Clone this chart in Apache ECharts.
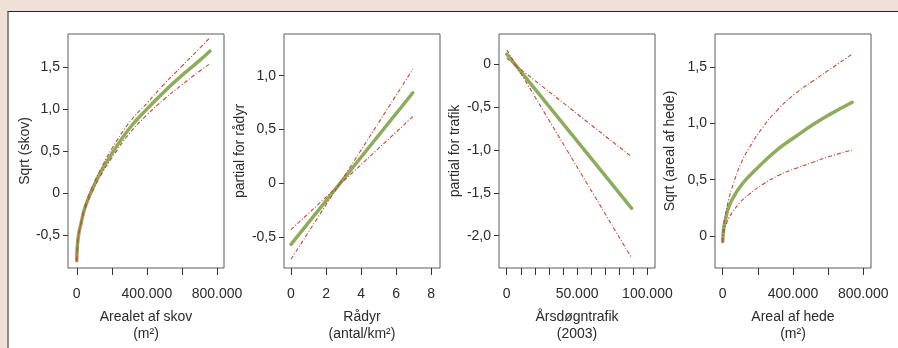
<!DOCTYPE html>
<html><head><meta charset="utf-8">
<script src="https://cdn.jsdelivr.net/npm/echarts@6/dist/echarts.min.js"></script>
<style>
html,body{margin:0;padding:0;width:898px;height:348px;overflow:hidden;background:#efe1d8;}
#frame{position:absolute;left:7px;top:11px;right:0;bottom:0;background:#fff;border-top:1px solid #222;border-left:2px solid #8c8c8c;}
#chart{position:absolute;left:0;top:0;width:898px;height:348px;}
</style></head><body>
<div id="frame"></div><div id="chart"></div>
<script>
// Panel 1: Arealet af skov
const skovX     = [0, 3000, 10000, 25000, 50000, 100000, 150000, 200000, 300000, 400000, 500000, 600000, 700000, 760000];
const skovFit   = [-0.80, -0.64, -0.50, -0.35, -0.15, 0.10, 0.30, 0.47, 0.77, 1.00, 1.21, 1.40, 1.575, 1.69];
const skovUpper = [-0.79, -0.63, -0.49, -0.34, -0.13, 0.13, 0.34, 0.53, 0.84, 1.07, 1.30, 1.51, 1.72, 1.85];
const skovLower = [-0.81, -0.65, -0.51, -0.36, -0.17, 0.07, 0.26, 0.42, 0.71, 0.93, 1.12, 1.29, 1.45, 1.54];
// Panel 2: Rådyr
const raadyrX     = [0, 6.95];
const raadyrFit   = [-0.567, 0.842];
const raadyrUpper = [-0.706, 1.06];
const raadyrLower = [-0.43, 0.62];
// Panel 3: Årsdøgntrafik
const trafikX     = [0, 88800];
const trafikFit   = [0.12, -1.68];
const trafikUpper = [0.07, -1.08];
const trafikLower = [0.17, -2.26];
// Panel 4: Areal af hede
const hedeX     = [0, 5000, 15000, 35000, 60000, 100000, 150000, 225000, 320000, 415000, 510000, 605000, 737000];
const hedeFit   = [-0.05, 0.06, 0.14, 0.26, 0.34, 0.44, 0.53, 0.645, 0.778, 0.883, 0.985, 1.075, 1.187];
const hedeUpper = [-0.05, 0.08, 0.18, 0.33, 0.46, 0.63, 0.78, 0.958, 1.133, 1.266, 1.372, 1.474, 1.615];
const hedeLower = [-0.05, 0.02, 0.08, 0.16, 0.22, 0.30, 0.37, 0.455, 0.54, 0.60, 0.652, 0.705, 0.763];

// Ticks and labels
const skovXTicks   = [0, 200000, 400000, 600000, 800000];
const skovXLabels  = [0, 400000, 800000];
const skovYTicks   = [-0.5, 0, 0.5, 1.0, 1.5];
const raadyrXTicks = [0, 2, 4, 6, 8];
const raadyrYTicks = [-0.5, 0, 0.5, 1.0];
const trafikXTicks = [0, 10000, 20000, 30000, 40000, 50000, 60000, 70000, 80000, 90000, 100000];
const trafikXLabels= [0, 50000, 100000];
const trafikYTicks = [-2.0, -1.5, -1.0, -0.5, 0];
const hedeXTicks   = [0, 200000, 400000, 600000, 800000];
const hedeXLabels  = [0, 400000, 800000];
const hedeYTicks   = [0, 0.5, 1.0, 1.5];

const xTitles = ['Arealet af skov\n(m²)', 'Rådyr\n(antal/km²)', 'Årsdøgntrafik\n(2003)', 'Areal af hede\n(m²)'];
const yTitles = ['Sqrt (skov)', 'partial for rådyr', 'partial for trafik', 'Sqrt (areal af hede)'];

function fmtThousands(v){
  if (v === 0) return '0';
  return String(Math.round(v)).replace(/\B(?=(\d{3})+(?!\d))/g, '.');
}
function fmtDec(v){
  if (Math.abs(v) < 1e-9) return '0';
  return v.toFixed(1).replace('.', ',');
}
function fmtInt(v){ return String(Math.round(v)); }

const FONT = "'Liberation Sans', Arial, Helvetica, sans-serif";
const TXT = '#2a2a2a';
const GREEN = '#8cad5c';
const RED = '#c9472f';

const lefts = [68, 284, 499, 715];
const grids = lefts.map(l => ({left: l, top: 34, width: 156, height: 234, show: true,
  borderColor: '#5a5a5a', borderWidth: 1, backgroundColor: 'transparent'}));

const xCfg = [
  {min: -50000, max: 840000, ticks: skovXTicks, labels: skovXLabels, fmt: fmtThousands},
  {min: -0.4, max: 8.5, ticks: raadyrXTicks, labels: raadyrXTicks, fmt: fmtInt},
  {min: -5500, max: 105400, ticks: trafikXTicks, labels: trafikXLabels, fmt: fmtThousands},
  {min: -43800, max: 843800, ticks: hedeXTicks, labels: hedeXLabels, fmt: fmtThousands}
];
const yCfg = [
  {min: -0.887, max: 1.892, ticks: skovYTicks, gap: 36},
  {min: -0.787, max: 1.388, ticks: raadyrYTicks, gap: 37},
  {min: -2.377, max: 0.354, ticks: trafikYTicks, gap: 37},
  {min: -0.284, max: 1.793, ticks: hedeYTicks, gap: 38}
];

const xAxes = xCfg.map((c, i) => ({
  type: 'value', gridIndex: i, min: c.min, max: c.max, position: 'bottom',
  axisLine: {show: false, onZero: false}, splitLine: {show: false},
  axisTick: {show: true, inside: false, length: 7, lineStyle: {color: '#333', width: 1}, customValues: c.ticks},
  axisLabel: {show: true, margin: 19, color: TXT, fontSize: 14, fontFamily: FONT, customValues: c.labels,
    formatter: v => c.fmt(v), showMinLabel: true, showMaxLabel: true},
  name: xTitles[i], nameLocation: 'middle', nameGap: 41,
  nameTextStyle: {color: TXT, fontSize: 14, fontFamily: FONT, lineHeight: 17}
}));
const yAxes = yCfg.map((c, i) => ({
  type: 'value', gridIndex: i, min: c.min, max: c.max, position: 'left',
  axisLine: {show: false, onZero: false}, splitLine: {show: false},
  axisTick: {show: true, inside: false, length: 5, lineStyle: {color: '#333', width: 1}, customValues: c.ticks},
  axisLabel: {show: true, margin: 8, color: TXT, fontSize: 14, fontFamily: FONT, customValues: c.ticks,
    formatter: v => fmtDec(v)},
  name: yTitles[i], nameLocation: 'middle', nameGap: c.gap,
  nameTextStyle: {color: TXT, fontSize: 14, fontFamily: FONT}
}));

const panels = [
  [skovX, skovFit, skovUpper, skovLower],
  [raadyrX, raadyrFit, raadyrUpper, raadyrLower],
  [trafikX, trafikFit, trafikUpper, trafikLower],
  [hedeX, hedeFit, hedeUpper, hedeLower]
];
const zip = (xs, ys) => xs.map((x, k) => [x, ys[k]]);
const series = [];
panels.forEach((p, i) => {
  const [xs, fit, up, lo] = p;
  series.push({type: 'line', xAxisIndex: i, yAxisIndex: i, data: zip(xs, fit), showSymbol: false,
    smooth: 0.5, lineStyle: {color: GREEN, width: 3.5, cap: 'round', join: 'round'}, silent: true, animation: false, z: 2});
  [up, lo].forEach(ci => series.push({type: 'line', xAxisIndex: i, yAxisIndex: i, data: zip(xs, ci), showSymbol: false,
    smooth: 0.5, lineStyle: {color: RED, width: 1.1, type: [4, 2, 1, 2]}, silent: true, animation: false, z: 3}));
});

const chart = echarts.init(document.getElementById('chart'), null, {renderer: 'canvas'});
chart.setOption({
  backgroundColor: 'transparent',
  animation: false,
  grid: grids, xAxis: xAxes, yAxis: yAxes, series: series
});
</script>
</body></html>
